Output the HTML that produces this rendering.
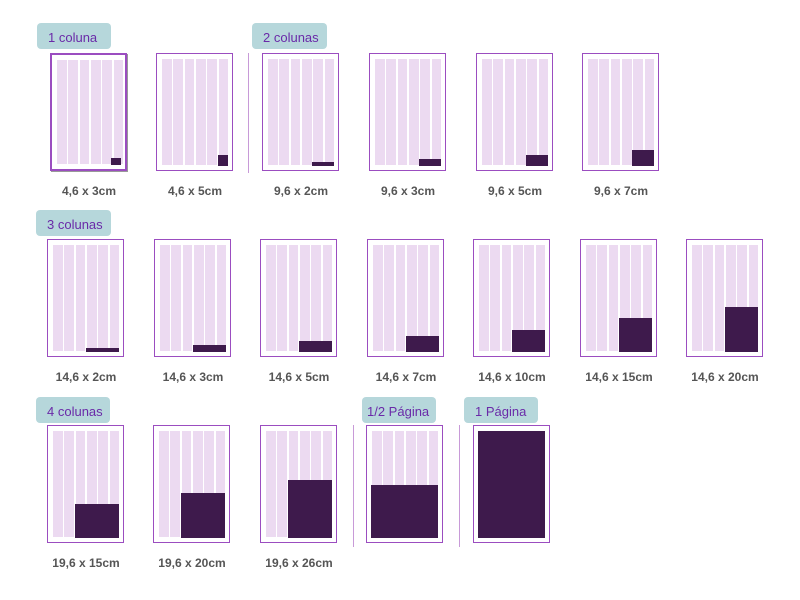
<!DOCTYPE html>
<html><head><meta charset="utf-8">
<style>
body{margin:0;background:#fff;width:800px;height:600px;position:relative;overflow:hidden;font-family:"Liberation Sans",sans-serif}
.tab{position:absolute;height:26px;background:#b6d7db;border-radius:4px;color:#6a2aa8;font-size:13px;line-height:30px;padding-left:11px;box-sizing:border-box}
.page{position:absolute;width:77px;height:118px;border:1px solid #9b4dc0;box-sizing:border-box;background:#fff}
.col{position:absolute;top:5px;bottom:5px;background:#ecdaf1}
.blk{position:absolute;background:#3e1a4c}
.lbl{position:absolute;width:100px;text-align:center;font-size:12px;font-weight:bold;color:#555}
.sep{position:absolute;width:1px;background:#c89ad8}
</style></head><body>
<div class="tab" style="left:37px;top:23px;width:74px">1 coluna</div>
<div class="tab" style="left:252px;top:23px;width:75px">2 colunas</div>
<div class="tab" style="left:36px;top:210px;width:75px">3 colunas</div>
<div class="tab" style="left:36px;top:397px;width:74px">4 colunas</div>
<div class="tab" style="left:362px;top:397px;width:74px;padding-left:5px">1/2 Página</div>
<div class="tab" style="left:464px;top:397px;width:74px">1 Página</div>
<div class="sep" style="left:248px;top:53px;height:120px"></div>
<div class="sep" style="left:353px;top:425px;height:122px"></div>
<div class="sep" style="left:459px;top:425px;height:122px"></div>
<script>
const labels=["4,6 x 3cm","4,6 x 5cm","9,6 x 2cm","9,6 x 3cm","9,6 x 5cm","9,6 x 7cm",
"14,6 x 2cm","14,6 x 3cm","14,6 x 5cm","14,6 x 7cm","14,6 x 10cm","14,6 x 15cm","14,6 x 20cm",
"19,6 x 15cm","19,6 x 20cm","19,6 x 26cm","1/2 Página","1 Página"];
const widthsCm=[4.6,4.6,9.6,9.6,9.6,9.6,14.6,14.6,14.6,14.6,14.6,14.6,14.6,19.6,19.6,19.6,29.7,29.7];
const heightsCm=[3,5,2,3,5,7,2,3,5,7,10,15,20,15,20,26,23.5,47.5];
const xs=[50,156,262,369,476,582,47,154,260,367,473,580,686,47,153,260,366,473];
const rows=[53,53,53,53,53,53,239,239,239,239,239,239,239,425,425,425,425,425];
const S=2.25, IW=67, IH=108;
labels.forEach((t,i)=>{
  const p=document.createElement('div');p.className='page';
  
  
  p.style.left=xs[i]+'px';p.style.top=rows[i]+'px';
  if(i===0){p.style.border='2px solid #9b4dc0';p.style.boxShadow='1px 1px 0 #999';}
  if(i<17){for(let c=0;c<6;c++){const col=document.createElement('div');col.className='col';
    
    
    col.style.left=(5+c*11.3)+'px';col.style.width='9.8px';p.appendChild(col);}}
  const b=document.createElement('div');b.className='blk';
  
  
  const w=Math.min(IW,widthsCm[i]*S),h=Math.min(IH,heightsCm[i]*S);
  b.style.width=w+'px';b.style.height=h+'px';b.style.right='4px';b.style.bottom='4px';
  p.appendChild(b);document.body.appendChild(p);
  if(i<16){const l=document.createElement('div');l.className='lbl';
    
    
    l.textContent=t;l.style.left=(xs[i]-11)+'px';l.style.top=(rows[i]+131)+'px';document.body.appendChild(l);}
});
</script>
</body></html>
